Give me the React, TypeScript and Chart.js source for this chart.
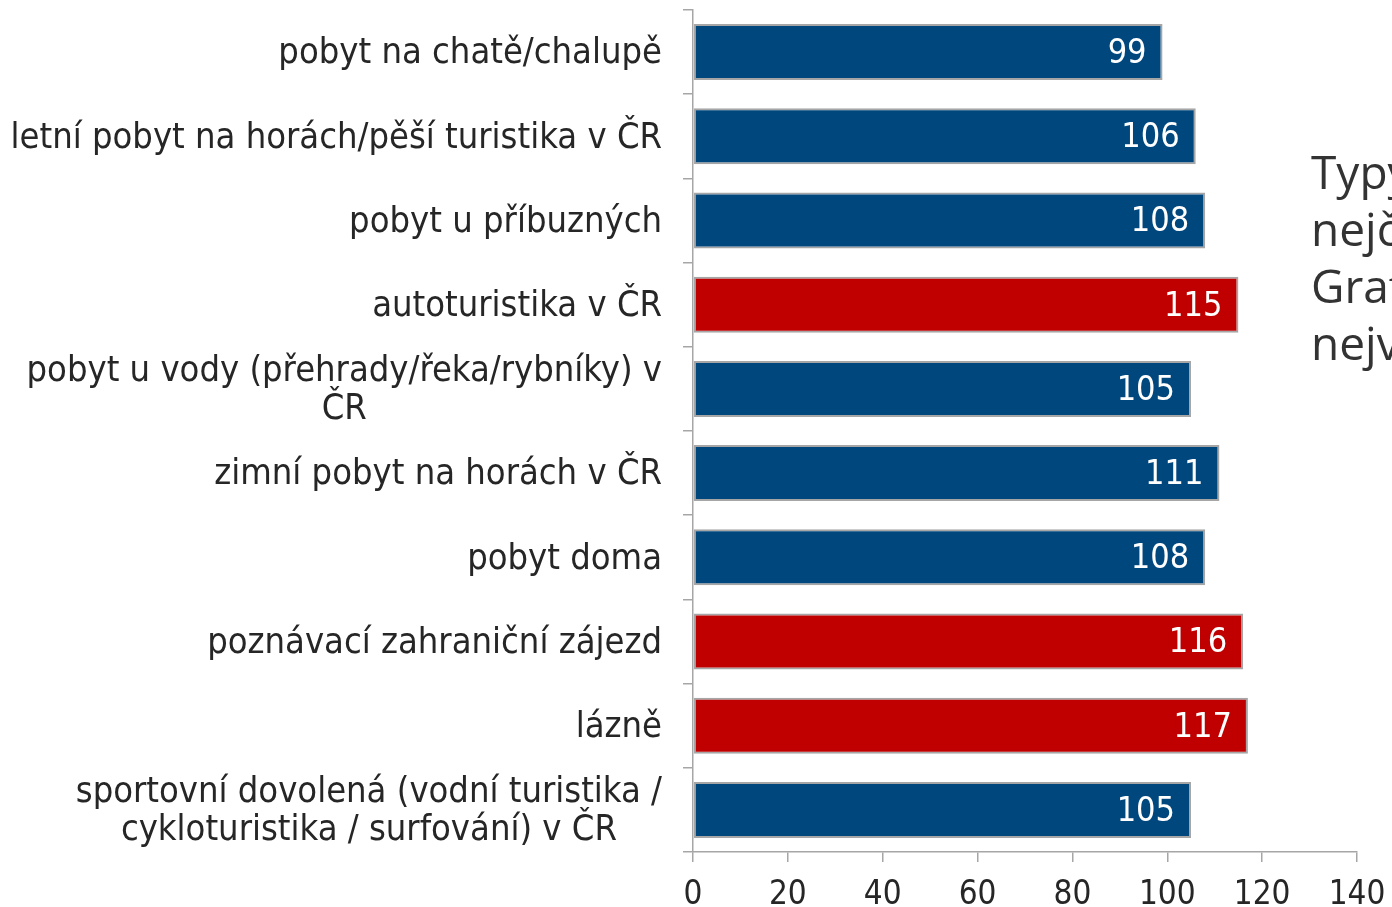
import React, { useEffect, useRef } from "react";
import { Chart, registerables } from "chart.js";

Chart.register(...registerables);

const categories: string[][] = [
  ["pobyt na chatě/chalupě"],
  ["letní pobyt na horách/pěší turistika v ČR"],
  ["pobyt u příbuzných"],
  ["autoturistika v ČR"],
  ["pobyt u vody (přehrady/řeka/rybníky) v", "ČR"],
  ["zimní pobyt na horách v ČR"],
  ["pobyt doma"],
  ["poznávací zahraniční zájezd"],
  ["lázně"],
  ["sportovní dovolená (vodní turistika /", "cykloturistika / surfování) v ČR"],
];
const values: number[] = [99, 106, 108, 115, 105, 111, 108, 116, 117, 105];
const highlighted: boolean[] = [false, false, false, true, false, false, false, true, true, false];
const xTickValues: number[] = [0, 20, 40, 60, 80, 100, 120, 140];
const sideText: string[] = ["Typy", "nejč", "Graf", "nejv"];

const W = 1392;
const H = 907;
const BLUE = "#00477E";
const RED = "#C00000";
const BORDER = "#A6A6A6";
const TEXT = "#262626";
const COND = '"DejaVu Sans Condensed", "DejaVu Sans"';
const Y_FONT = 36;
const Y_LH = 38;

const yLabelPlugin = {
  id: "yLabelPlugin",
  afterDraw(chart: any) {
    const scale = chart.scales.y;
    const ctx = chart.ctx;
    ctx.save();
    ctx.font = `${Y_FONT}px ${COND}`;
    ctx.fillStyle = TEXT;
    ctx.textBaseline = "middle";
    ctx.textAlign = "center";
    const right = scale.right - 10 - 21;
    categories.forEach((lines, i) => {
      const y = scale.getPixelForValue(i) + 2;
      const w = Math.max(...lines.map((l) => ctx.measureText(l).width));
      const cx = right - w / 2;
      lines.forEach((l, j) => {
        ctx.fillText(l, cx, y + (j - (lines.length - 1) / 2) * Y_LH);
      });
    });
    ctx.restore();
  },
};

const valueLabelPlugin = {
  id: "valueLabelPlugin",
  afterDatasetsDraw(chart: any) {
    const ctx = chart.ctx;
    const meta = chart.getDatasetMeta(0);
    ctx.save();
    ctx.font = `34px ${COND}`;
    ctx.fillStyle = "#FFFFFF";
    ctx.textAlign = "right";
    ctx.textBaseline = "middle";
    meta.data.forEach((bar: any, i: number) => {
      ctx.fillText(String(values[i]), bar.x - 16, bar.y + 2);
    });
    ctx.restore();
  },
};

export default function App() {
  const canvasRef = useRef<HTMLCanvasElement | null>(null);

  useEffect(() => {
    document.body.style.margin = "0";
    document.body.style.overflow = "hidden";
    const canvas = canvasRef.current;
    if (!canvas) return;
    const chart = new Chart(canvas, {
      type: "bar",
      data: {
        labels: categories.map((c) => c.join(" ")),
        datasets: [
          {
            data: values,
            backgroundColor: highlighted.map((h) => (h ? RED : BLUE)),
            borderColor: BORDER,
            borderWidth: 2,
            borderSkipped: false,
            barPercentage: 0.665,
            categoryPercentage: 1,
          },
        ],
      },
      options: {
        indexAxis: "y",
        responsive: false,
        animation: false,
        events: [],
        layout: { padding: { top: 10, right: 35, left: 0, bottom: 0 } },
        plugins: {
          legend: { display: false },
          tooltip: { enabled: false },
          title: { display: false },
        },
        scales: {
          x: {
            type: "linear",
            min: 0,
            max: 140,
            afterBuildTicks: (scale: any) => {
              scale.ticks = xTickValues.map((v) => ({ value: v }));
            },
            afterFit: (scale: any) => {
              scale.height = 55;
              scale.paddingLeft = 0;
              scale.paddingRight = 0;
            },
            ticks: {
              font: { size: 33, family: COND },
              color: TEXT,
              padding: 14,
              maxRotation: 0,
            },
            grid: {
              drawOnChartArea: false,
              drawTicks: true,
              tickLength: 10,
              color: BORDER,
              lineWidth: 1.5,
            },
            border: { color: BORDER, width: 1.5 },
          },
          y: {
            type: "category",
            afterFit: (scale: any) => {
              scale.width = 693;
            },
            ticks: { display: false },
            grid: {
              drawOnChartArea: false,
              drawTicks: true,
              tickLength: 10,
              offset: true,
              color: BORDER,
              lineWidth: 1.5,
            },
            border: { color: BORDER, width: 1.5 },
          },
        },
      },
      plugins: [yLabelPlugin, valueLabelPlugin],
    });
    return () => chart.destroy();
  }, []);

  return (
    <div style={{ position: "relative", width: W, height: H, overflow: "hidden", background: "#fff" }}>
      <canvas ref={canvasRef} width={W} height={H} style={{ display: "block" }} />
      <div
        style={{
          position: "absolute",
          left: 1311,
          top: 143,
          fontFamily: '"Open Sans", "Noto Sans", sans-serif',
          fontSize: 46,
          lineHeight: "57px",
          color: "#333333",
          whiteSpace: "nowrap",
        }}
      >
        {sideText.map((t, i) => (
          <div key={i}>{t}</div>
        ))}
      </div>
    </div>
  );
}
